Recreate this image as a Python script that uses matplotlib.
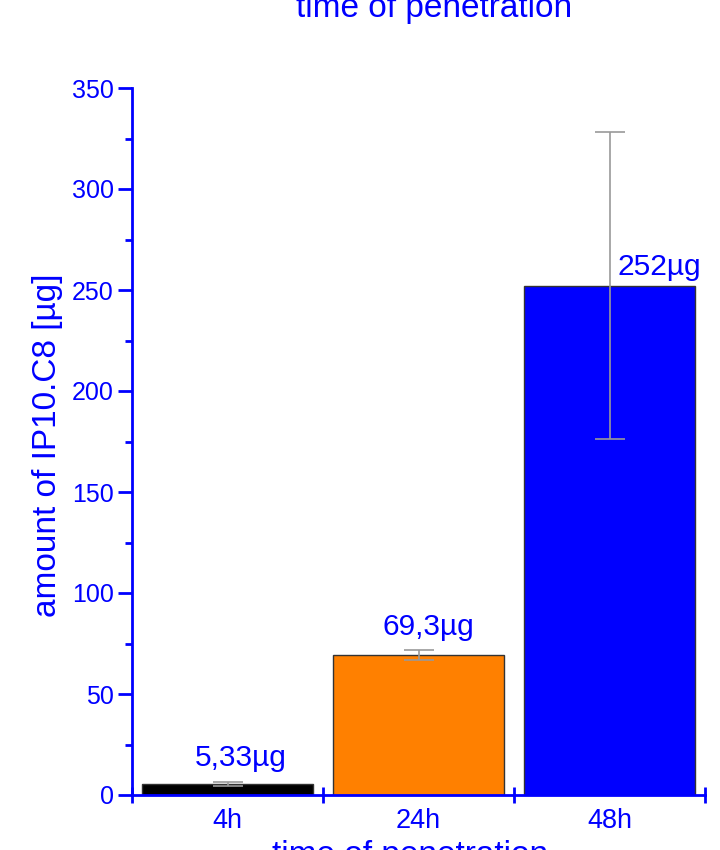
import matplotlib.pyplot as plt
from matplotlib.ticker import MultipleLocator, FixedLocator, NullFormatter

plt.rcParams['font.family'] = ['Liberation Sans', 'DejaVu Sans']

# penetration times and measured amounts
times = ['4h', '24h', '48h']
amounts = [5.33, 69.3, 252.0]
errors = [0.9, 2.7, 76.0]
labels = ['5,33µg', '69,3µg', '252µg']
colors = ['#000000', '#ff8000', '#0000ff']

blue = '#0000ff'

fig = plt.figure(figsize=(7.2, 8.5), dpi=100)
ax = fig.add_axes([132 / 720, 55 / 850, 573 / 720, 707 / 850])

x = list(range(len(times)))
ax.bar(x, amounts, width=0.9, color=colors, edgecolor='#333333', linewidth=1, zorder=1)
ax.errorbar(x, amounts, yerr=errors, fmt='none', ecolor='#999999', elinewidth=1.2,
            capsize=11, capthick=1.2, zorder=3)

# value labels above each bar (pixel offsets from bar top)
offsets = [(13, 18), (10, 20), (50, 11)]
for xi, val, txt, off in zip(x, amounts, labels, offsets):
    ax.annotate(txt, (xi, val), xytext=off, textcoords='offset pixels',
                ha='center', va='baseline', fontsize=21.5, color=blue)

ax.set_xlim(-0.5, 2.5)
ax.set_ylim(0, 350)

for side in ['top', 'right']:
    ax.spines[side].set_visible(False)
for side in ['left', 'bottom']:
    ax.spines[side].set_color(blue)
    ax.spines[side].set_linewidth(2)
    ax.spines[side].set_zorder(4)

ax.yaxis.set_major_locator(MultipleLocator(50))
ax.yaxis.set_minor_locator(MultipleLocator(25))
ax.tick_params(axis='y', which='major', direction='out', length=10, width=2,
               color=blue, labelcolor=blue, labelsize=18, pad=3)
ax.tick_params(axis='y', which='minor', direction='out', length=5, width=2, color=blue)

# x: category names at centres, tick marks on the bar boundaries
ax.xaxis.set_major_locator(FixedLocator(x))
ax.set_xticklabels(times)
ax.xaxis.set_minor_locator(FixedLocator([-0.5, 0.5, 1.5, 2.5]))
ax.xaxis.set_minor_formatter(NullFormatter())
ax.tick_params(axis='x', which='major', length=0, labelcolor=blue, labelsize=19.5, pad=9)
ax.tick_params(axis='x', which='minor', direction='inout', length=12, width=2, color=blue)

# axis titles
fig.text(48 / 720, 1 - 445 / 850, 'amount of IP10.C8 [µg]', rotation=90,
         ha='center', va='center', fontsize=24, color=blue)
fig.text(434 / 720, 1 - 17 / 850, 'time of penetration', ha='center', va='baseline',
         fontsize=24, color=blue)
fig.text(410 / 720, 1 - 864 / 850, 'time of penetration', ha='center', va='baseline',
         fontsize=24, color=blue)

fig.savefig('out.png', dpi=100)
